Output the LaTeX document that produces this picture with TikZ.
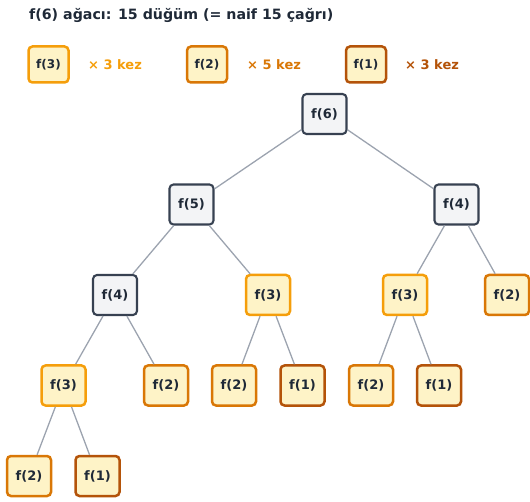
\documentclass[tikz,border=0pt]{standalone}
\usepackage{fontspec}
\setmainfont{DejaVu Sans}
\begin{document}
\definecolor{ink}{HTML}{1F2937}
\definecolor{edgegray}{HTML}{9CA3AF}
\definecolor{plainfill}{HTML}{F3F4F6}
\definecolor{plainline}{HTML}{374151}
\definecolor{memofill}{HTML}{FEF3C7}
\definecolor{cthree}{HTML}{F59E0B}
\definecolor{ctwo}{HTML}{D97706}
\definecolor{cone}{HTML}{B45309}
\begin{tikzpicture}[x=1pt,y=-1pt,
  callbox/.style={rounded corners=4pt, minimum width=44pt, minimum height=40pt,
    inner sep=0pt, line width=2.5pt, text=ink,
    font=\fontsize{13}{13}\selectfont\bfseries},
  plain/.style={callbox, fill=plainfill, draw=plainline, line width=2.1pt},
  fthree/.style={callbox, fill=memofill, draw=cthree},
  ftwo/.style={callbox, fill=memofill, draw=ctwo},
  fone/.style={callbox, fill=memofill, draw=cone},
  legendbox/.style={minimum width=40pt, minimum height=36pt,
    font=\fontsize{12}{12}\selectfont\bfseries},
  legendtext/.style={anchor=west, inner sep=0pt,
    font=\fontsize{13}{13}\selectfont\bfseries},
  link/.style={draw=edgegray, line width=1.3pt}]
\useasboundingbox (0,0) rectangle (530,502);

% title
\node[anchor=west, inner sep=0pt, text=ink, font=\fontsize{14.2}{14.2}\selectfont\bfseries]
  (title) at (29,15) {f(6) ağacı: 15 düğüm (= naif 15 çağrı)};

% legend
\node[fthree, legendbox] (lg3) at (48.5,64.5) {f(3)};
\node[legendtext, text=cthree] (lt3) at (88,64.5) {× 3 kez};
\node[ftwo, legendbox] (lg2) at (207,64.5) {f(2)};
\node[legendtext, text=ctwo] (lt2) at (247,64.5) {× 5 kez};
\node[fone, legendbox] (lg1) at (366,64.5) {f(1)};
\node[legendtext, text=cone] (lt1) at (405,64.5) {× 3 kez};

% call tree
\node[plain]  (n6)   at (324.5,114) {f(6)};
\node[plain]  (n5)   at (191.5,204.5) {f(5)};
\node[plain]  (n4r)  at (456.5,204.5) {f(4)};
\node[plain]  (n4l)  at (115,295) {f(4)};
\node[fthree] (n3m)  at (268,295) {f(3)};
\node[fthree] (n3r)  at (405,295) {f(3)};
\node[ftwo]   (n2rr) at (507,295) {f(2)};
\node[fthree] (n3l)  at (63.5,385.5) {f(3)};
\node[ftwo]   (n2a)  at (166,385.5) {f(2)};
\node[ftwo]   (n2b)  at (234,385.5) {f(2)};
\node[fone]   (n1a)  at (302.5,385.5) {f(1)};
\node[ftwo]   (n2c)  at (371,385.5) {f(2)};
\node[fone]   (n1b)  at (439,385.5) {f(1)};
\node[ftwo]   (n2d)  at (29,476) {f(2)};
\node[fone]   (n1c)  at (97.5,476) {f(1)};

% parent-child links
\path[link] (n6) -- (n5);
\path[link] (n6) -- (n4r);
\path[link] (n5) -- (n4l);
\path[link] (n5) -- (n3m);
\path[link] (n4r) -- (n3r);
\path[link] (n4r) -- (n2rr);
\path[link] (n4l) -- (n3l);
\path[link] (n4l) -- (n2a);
\path[link] (n3m) -- (n2b);
\path[link] (n3m) -- (n1a);
\path[link] (n3r) -- (n2c);
\path[link] (n3r) -- (n1b);
\path[link] (n3l) -- (n2d);
\path[link] (n3l) -- (n1c);
\end{tikzpicture}
\end{document}
